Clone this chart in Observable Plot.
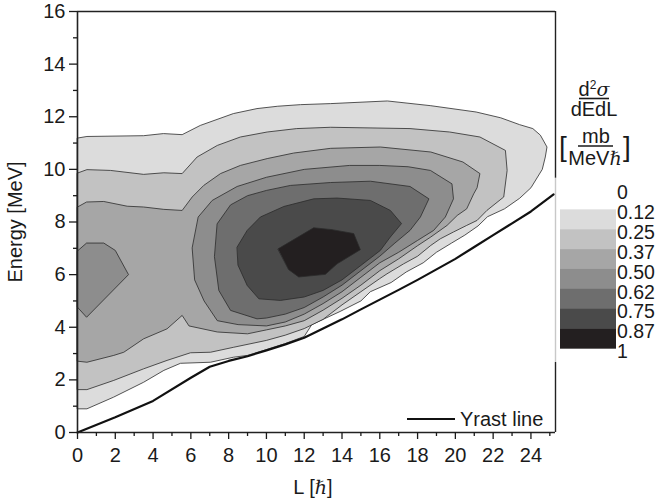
<!DOCTYPE html>
<html><head><meta charset="utf-8">
<script src="https://cdn.jsdelivr.net/npm/d3@7"></script>
<script src="https://cdn.jsdelivr.net/npm/@observablehq/plot@0.6"></script>
<style>
body{margin:0;background:#fff;}
#wrap{position:relative;width:656px;height:501px;font-family:'Liberation Sans',Arial,sans-serif;}
#wrap svg{position:absolute;left:0;top:0;}
</style></head><body><div id="wrap"></div>
<script>
// contour levels and legend
const levels = [0.12, 0.25, 0.37, 0.50, 0.62, 0.75, 0.87];
const legendLabels = ["0", "0.12", "0.25", "0.37", "0.50", "0.62", "0.75", "0.87", "1"];
const grays = ["#dcdcdc", "#c2c2c2", "#a6a6a6", "#8d8d8d", "#6e6e6e", "#4a4a4a", "#231f20"];

// contour outlines [L (hbar), E (MeV)] of region above each level
const c012 = [[0,11.19],[0.5,11.25],[3.5,11.28],[4.55,11.36],[5.54,11.32],[6.5,11.67],[8.25,12.12],[9.5,12.31],[10.6,12.4],[11.8,12.46],[13.4,12.5],[16.4,12.6],[18.7,12.42],[21.1,12.18],[22.4,11.96],[23.4,11.7],[24.1,11.55],[24.5,11.3],[24.85,10.85],[24.76,10.47],[24.6,10.0],[24.0,9.3],[23.4,8.9],[22.6,8.5],[21.7,8.2],[21.2,7.85],[20.5,7.5],[19.8,7.2],[19.0,6.85],[18.3,6.45],[17.4,6.1],[16.6,5.7],[15.5,5.35],[15.0,5.0],[13.9,4.6],[12.4,4.1],[12.0,3.65],[11.0,3.38],[10,3.15],[9,2.93],[8.25,2.86],[7.04,2.67],[5.45,2.63],[4.57,2.36],[3.5,1.91],[1.9,1.34],[0.5,0.9],[0,0.9]];
const c025 = [[0,9.86],[0.5,9.99],[1.75,9.96],[3.5,9.81],[4.57,9.87],[5.54,9.84],[6.33,10.47],[7.4,10.91],[8.62,11.23],[10.04,11.42],[11.6,11.55],[13.4,11.6],[17.6,11.55],[19.7,11.42],[21.3,11.23],[22.65,10.72],[22.74,9.96],[22.56,8.95],[21.67,8.44],[21.15,8.06],[20.6,7.87],[19.9,7.62],[19.2,7.36],[18.7,7.11],[18,6.7],[17.26,6.41],[16.38,6.03],[16,5.85],[15,5.35],[14,4.85],[13,4.3],[12,3.95],[11,3.7],[10,3.5],[8.27,3.24],[7.04,3.05],[5.98,3.03],[4.74,2.74],[3.5,2.42],[1.92,1.98],[0.5,1.63],[0,1.63]];
const c037 = [[0,8.57],[0.48,8.76],[1.39,8.78],[2.63,8.6],[3.5,8.57],[4.57,8.48],[5.54,8.44],[6.07,8.95],[6.68,9.39],[7.57,9.84],[8.62,10.15],[10.04,10.41],[11.44,10.62],[13.4,10.8],[16.03,10.85],[18.7,10.66],[20.4,10.28],[21.3,9.84],[21.15,9.3],[20.97,9.07],[20.6,8.5],[20.1,8.25],[19.56,7.87],[18.7,7.43],[18,7.1],[17,6.6],[16,6.15],[15,5.6],[14,5.1],[13,4.65],[12,4.25],[11,4.05],[10,3.9],[9,3.75],[7.4,3.82],[5.9,4.05],[5.54,4.45],[4.74,3.94],[3.5,3.56],[2.45,3.05],[1.92,2.93],[0.5,2.67],[0,2.71]];
const c050a = [[0,6.9],[0.48,7.2],[1.39,7.2],[2.0,6.92],[2.7,6.0],[0.48,4.38],[0,4.76]];
const c050b = [[6.4,8.2],[7.13,8.82],[8.45,9.35],[10,9.7],[12,10.0],[14.4,10.15],[16,10.15],[17.5,10.1],[18.68,9.96],[19.82,9.45],[19.9,8.88],[19.47,8.19],[18.85,7.68],[18,7.3],[17,6.85],[16,6.45],[15,5.9],[14,5.35],[13,4.9],[12,4.5],[11,4.2],[10,4.05],[8.5,4.1],[7.4,4.25],[6.7,5.0],[6.2,5.8],[6.07,7.0]];
const c062 = [[7.4,7.94],[8.1,8.65],[9.0,9.0],[10,9.2],[11.27,9.39],[13.39,9.5],[15.5,9.55],[17.6,9.35],[18.6,8.88],[18.15,8.19],[17.6,7.68],[16.8,7.2],[16,6.7],[15,6.15],[14,5.6],[13,5.15],[12,4.75],[11,4.5],[10,4.35],[9.5,4.32],[8.1,4.64],[7.48,5.4],[7.25,6.67]];
const c075 = [[8.45,7.05],[8.98,7.68],[9.68,8.19],[10.92,8.59],[12.5,8.88],[13.74,8.91],[15.5,8.82],[16.56,8.44],[17.15,7.94],[16.56,7.43],[16.03,6.92],[15,6.35],[14,5.8],[13,5.4],[12,5.15],[10.74,5.02],[9.6,5.08],[8.98,5.59],[8.5,6.35]];
const c087 = [[10.62,6.98],[12.5,7.78],[13.47,7.71],[14.62,7.56],[14.97,6.95],[13.74,6.41],[13.12,6.01],[11.71,5.91],[11.18,6.19]];

// yrast line
const yrastL = [0, 2, 4, 6, 7, 8, 9, 10, 11, 12, 13, 14, 15, 16, 17, 18, 19, 20, 21, 22, 23, 24, 25.2];
const yrastE = [0, 0.58, 1.2, 2.08, 2.5, 2.72, 2.9, 3.12, 3.35, 3.6, 3.95, 4.3, 4.68, 5.05, 5.42, 5.8, 6.2, 6.6, 7.05, 7.5, 7.95, 8.4, 9.05];

const xMajor = d3.range(0, 25, 2), xMinor = d3.range(1, 26, 2);
const yMajor = d3.range(0, 17, 2), yMinor = d3.range(1, 16, 2);

const polys = [[c012,0],[c025,1],[c037,2],[c050a,3],[c050b,3],[c062,4],[c075,5],[c087,6]];
const yrast = yrastL.map((L, i) => ({L, E: yrastE[i]}));

const marks = polys.map(([pts, k]) => Plot.line(pts, {
  x: d => d[0], y: d => d[1], curve: "linear-closed",
  fill: grays[k], stroke: "#2b2b2b", strokeWidth: 0.8
}));
marks.push(
  Plot.line(yrast, {x: "L", y: "E", stroke: "#111", strokeWidth: 2.2}),
  Plot.ruleY([16], {stroke: "#222", strokeWidth: 1.4}),
  Plot.ruleX([25.3], {y1: 9.66, y2: 16, stroke: "#222", strokeWidth: 1.4}),
  Plot.ruleX([25.3], {y1: 2.66, y2: 9.66, stroke: "#c8c8c8", strokeWidth: 1.4}),
  Plot.ruleX([25.3], {y1: 0, y2: 2.66, stroke: "#222", strokeWidth: 1.4}),
  Plot.ruleX([0], {stroke: "#222", strokeWidth: 1.6}),
  Plot.ruleY([0], {stroke: "#222", strokeWidth: 1.6}),
  Plot.axisX(xMajor, {tickSize: 7, tickPadding: 8, label: null, strokeWidth: 1.3}),
  Plot.axisX(xMinor, {tickSize: 4, tickFormat: () => "", label: null, strokeWidth: 1.3}),
  Plot.axisY(yMajor, {tickSize: 8, tickPadding: 4, label: null, strokeWidth: 1.3}),
  Plot.axisY(yMinor, {tickSize: 4, tickFormat: () => "", label: null, strokeWidth: 1.3})
);

const chart = Plot.plot({
  width: 656, height: 501,
  marginLeft: 77, marginRight: 101, marginTop: 11, marginBottom: 69,
  x: {domain: [0, 25.3]},
  y: {domain: [0, 16]},
  style: {fontSize: "20px", fontFamily: "'Liberation Sans',Arial,sans-serif", color: "#1a1a1a", background: "white"},
  marks
});
document.getElementById("wrap").appendChild(chart);

// overlay: axis titles and legends
const ov = d3.select("#wrap").append("svg").attr("width", 656).attr("height", 501)
  .style("font-family", "'Liberation Sans',Arial,sans-serif").attr("fill", "#1a1a1a");
const serif = "'DejaVu Serif',serif";

ov.append("text").attr("transform", "translate(22,222) rotate(-90)")
  .attr("text-anchor", "middle").attr("font-size", 20).text("Energy [MeV]");

const xl = ov.append("text").attr("x", 313).attr("y", 494).attr("text-anchor", "middle").attr("font-size", 20);
xl.append("tspan").text("L [");
xl.append("tspan").attr("font-family", serif).attr("font-style", "italic").attr("font-size", 19).text("ℏ");
xl.append("tspan").text("]");

// yrast legend
ov.append("line").attr("x1", 407).attr("x2", 455).attr("y1", 419).attr("y2", 419).attr("stroke", "#111").attr("stroke-width", 2.2);
ov.append("text").attr("x", 460).attr("y", 426).attr("font-size", 20).text("Yrast line");

// colour legend title
const num = ov.append("text").attr("x", 594).attr("y", 96).attr("text-anchor", "middle").attr("font-size", 20);
num.append("tspan").text("d");
num.append("tspan").attr("font-size", 12).attr("dy", -7).text("2");
num.append("tspan").attr("dy", 7).attr("font-family", serif).attr("font-style", "italic").attr("font-size", 19).text("σ");
ov.append("line").attr("x1", 579).attr("x2", 609).attr("y1", 98.5).attr("y2", 98.5).attr("stroke", "#1a1a1a").attr("stroke-width", 1.6);
ov.append("text").attr("x", 594).attr("y", 116).attr("text-anchor", "middle").attr("font-size", 20).text("dEdL");

ov.append("text").attr("x", 559).attr("y", 156).attr("font-size", 28).text("[");
ov.append("text").attr("x", 623).attr("y", 156).attr("font-size", 28).text("]");
ov.append("text").attr("x", 596).attr("y", 143).attr("text-anchor", "middle").attr("font-size", 20).text("mb");
ov.append("line").attr("x1", 578).attr("x2", 613).attr("y1", 146).attr("y2", 146).attr("stroke", "#1a1a1a").attr("stroke-width", 1.6);
const den = ov.append("text").attr("x", 595).attr("y", 165).attr("text-anchor", "middle").attr("font-size", 20);
den.append("tspan").text("MeV");
den.append("tspan").attr("font-family", serif).attr("font-style", "italic").attr("font-size", 19).text("ℏ");

// colour ramp
const top0 = 189.5, bh = 19.86;
grays.forEach((g, i) => {
  ov.append("rect").attr("x", 560).attr("y", top0 + bh * (i + 1)).attr("width", 56).attr("height", bh + 0.3).attr("fill", g);
});
legendLabels.forEach((t, i) => {
  ov.append("text").attr("x", 617).attr("y", top0 + bh * i + 3).attr("dy", "0.35em")
    .attr("font-size", 19.5).text(t);
});
</script></body></html>
